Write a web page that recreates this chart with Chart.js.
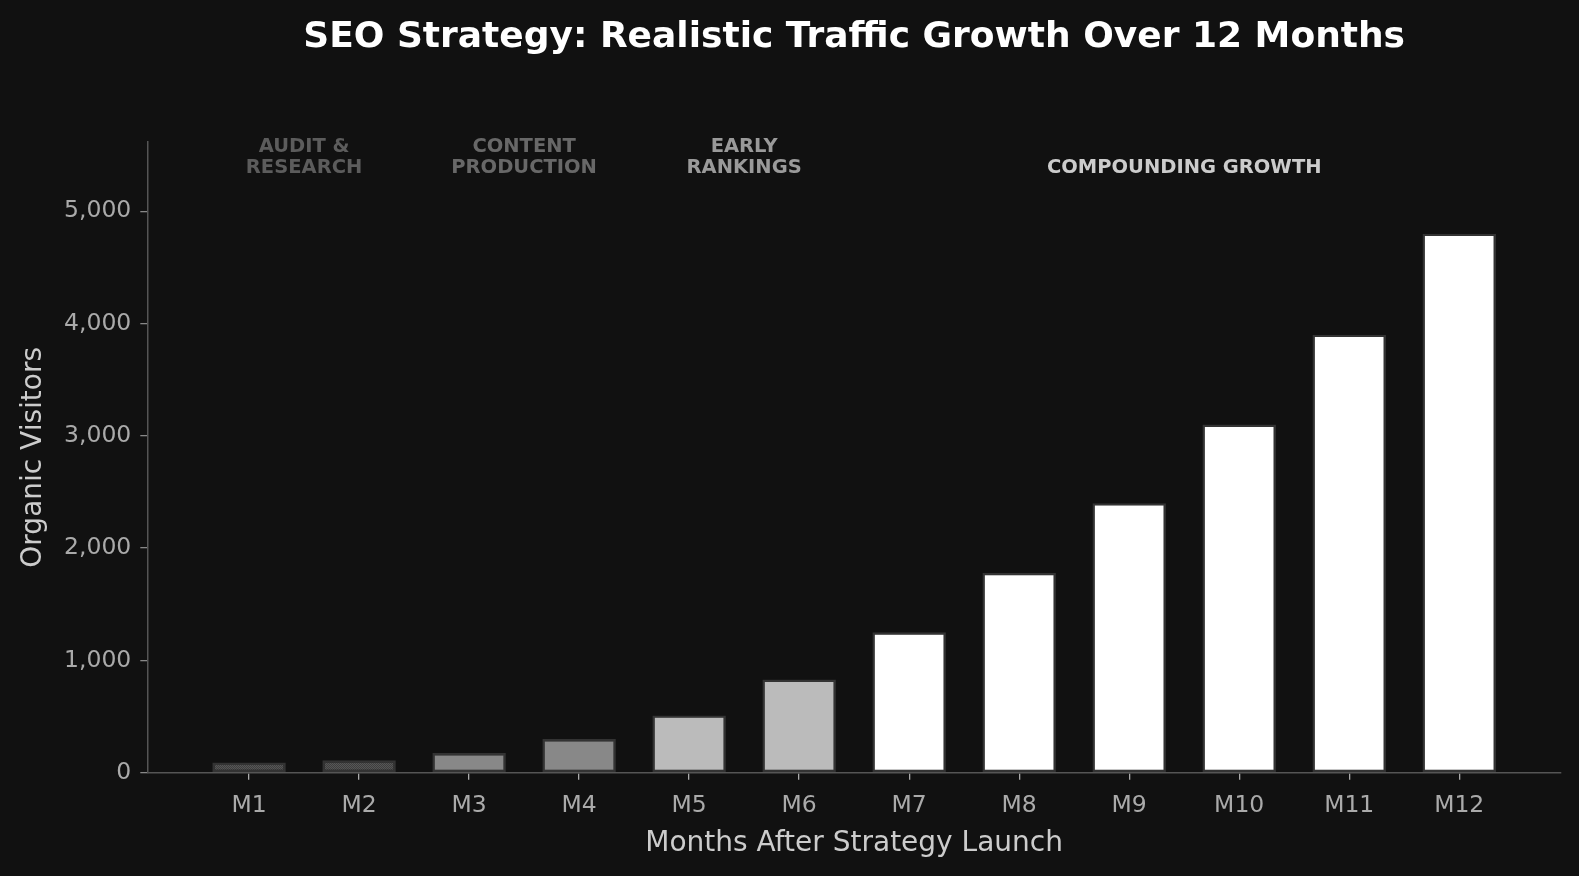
<!DOCTYPE html>
<html>
<head>
<meta charset="utf-8">
<script src="https://cdn.jsdelivr.net/npm/chart.js@4.4.1/dist/chart.umd.min.js"></script>
<style>
  html, body { margin: 0; padding: 0; background: #111111; }
  #wrap { width: 1579px; height: 876px; position: relative; }
</style>
</head>
<body>
<div id="wrap"><canvas id="c" width="1579" height="876"></canvas></div>
<script>
// ---- data ----
const months = ['M1','M2','M3','M4','M5','M6','M7','M8','M9','M10','M11','M12'];
const visitors = [90, 110, 175, 300, 510, 830, 1250, 1780, 2400, 3100, 3900, 4800];
const yTicks = [0, 1000, 2000, 3000, 4000, 5000];
const phaseNames = [['AUDIT &', 'RESEARCH'], ['CONTENT', 'PRODUCTION'], ['EARLY', 'RANKINGS'], ['COMPOUNDING GROWTH']];
const phaseStart = [0, 2, 4, 6];
const phaseEnd = [1, 3, 5, 11];
const chartTitle = 'SEO Strategy: Realistic Traffic Growth Over 12 Months';
const xTitle = 'Months After Strategy Launch';
const yTitle = 'Organic Visitors';

// ---- styles ----
const phaseTextColors = ['#5c5c5c', '#686868', '#9a9a9a', '#cccccc'];
const FONT = '"DejaVu Sans", sans-serif';

function makePattern(base, dot, step) {
  const c = document.createElement('canvas');
  c.width = step; c.height = step;
  const g = c.getContext('2d');
  g.fillStyle = base; g.fillRect(0, 0, step, step);
  g.fillStyle = dot;
  g.fillRect(0, 0, 1, 1);
  if (step <= 3) g.fillRect(1, 1, 1, 1);
  return g.createPattern(c, 'repeat');
}
const phaseBarFills = [
  makePattern('#565656', '#3e3e3e', 2),
  '#888888',
  '#bbbbbb',
  '#ffffff'
];

function phaseIndexOf(i) {
  for (let p = 0; p < phaseStart.length; p++) {
    if (i >= phaseStart[p] && i <= phaseEnd[p]) return p;
  }
  return phaseStart.length - 1;
}
const barColors = months.map((_, i) => phaseBarFills[phaseIndexOf(i)]);
const yMax = Math.max(...visitors) * 1.17;
const labelY = Math.max(...visitors) * 1.11;

const bgPlugin = {
  id: 'bg',
  beforeDraw(chart) {
    const ctx = chart.ctx;
    ctx.save();
    ctx.fillStyle = '#111111';
    ctx.fillRect(0, 0, chart.width, chart.height);
    ctx.restore();
  }
};

const textPlugin = {
  id: 'texts',
  afterDraw(chart) {
    const ctx = chart.ctx;
    const ca = chart.chartArea;
    const xs = chart.scales.x, ys = chart.scales.y;
    ctx.save();
    // main title
    ctx.fillStyle = '#ffffff';
    ctx.font = 'bold 36px ' + FONT;
    ctx.textAlign = 'center';
    ctx.textBaseline = 'middle';
    ctx.fillText(chartTitle, (ca.left + ca.right) / 2, 38);
    // phase labels
    ctx.font = 'bold 19.5px ' + FONT;
    const bottomPx = ys.getPixelForValue(labelY);
    phaseNames.forEach((lines, p) => {
      const cx = xs.getPixelForValue((phaseStart[p] + phaseEnd[p]) / 2);
      ctx.fillStyle = phaseTextColors[p];
      const n = lines.length;
      lines.forEach((ln, k) => {
        const y = bottomPx - 6 - (n - 1 - k) * 21.5;
        ctx.fillText(ln, cx, y);
      });
    });
    ctx.restore();
  }
};

new Chart(document.getElementById('c'), {
  type: 'bar',
  data: {
    datasets: [{
      data: months.map((m, i) => ({ x: i, y: visitors[i] })),
      backgroundColor: barColors,
      borderColor: '#333333',
      borderWidth: 2.4,
      borderSkipped: false,
      categoryPercentage: 1.0,
      barPercentage: 0.668
    }]
  },
  options: {
    responsive: false,
    animation: false,
    devicePixelRatio: 1,
    layout: { padding: { top: 142, right: 18, left: 0, bottom: 0 } },
    plugins: {
      legend: { display: false },
      tooltip: { enabled: false },
      title: { display: false }
    },
    scales: {
      x: {
        type: 'linear',
        offset: false,
        min: -0.925,
        max: 11.925,
        afterBuildTicks: (s) => { s.ticks = months.map((_, i) => ({ value: i })); },
        afterFit: (s) => { s.height = 103.3; },
        ticks: {
          autoSkip: false,
          maxRotation: 0,
          color: '#aaaaaa',
          font: { family: FONT, size: 23.5 },
          padding: 12,
          callback: (v) => months[Math.round(v)]
        },
        grid: { offset: false, drawOnChartArea: false, drawTicks: true, tickLength: 7, color: '#aaaaaa', lineWidth: 1.3 },
        border: { color: '#555555', width: 1.5 },
        title: {
          display: true, text: xTitle, color: '#cccccc',
          font: { family: FONT, size: 28 },
          padding: { top: 0, bottom: 15 }
        }
      },
      y: {
        min: 0,
        max: yMax,
        afterBuildTicks: (s) => { s.ticks = yTicks.map(v => ({ value: v })); },
        afterFit: (s) => { s.width = 147.3; },
        ticks: {
          color: '#aaaaaa',
          font: { family: FONT, size: 23.5 },
          padding: 9,
          callback: (v) => Number(v).toLocaleString('en-US')
        },
        grid: { drawOnChartArea: false, drawTicks: true, tickLength: 7, color: '#888888', lineWidth: 1.3 },
        border: { color: '#555555', width: 1.5 },
        title: {
          display: true, text: yTitle, color: '#cccccc',
          font: { family: FONT, size: 28 },
          padding: { top: 17, bottom: 0 }
        }
      }
    }
  },
  plugins: [bgPlugin, textPlugin]
});
</script>
</body>
</html>
